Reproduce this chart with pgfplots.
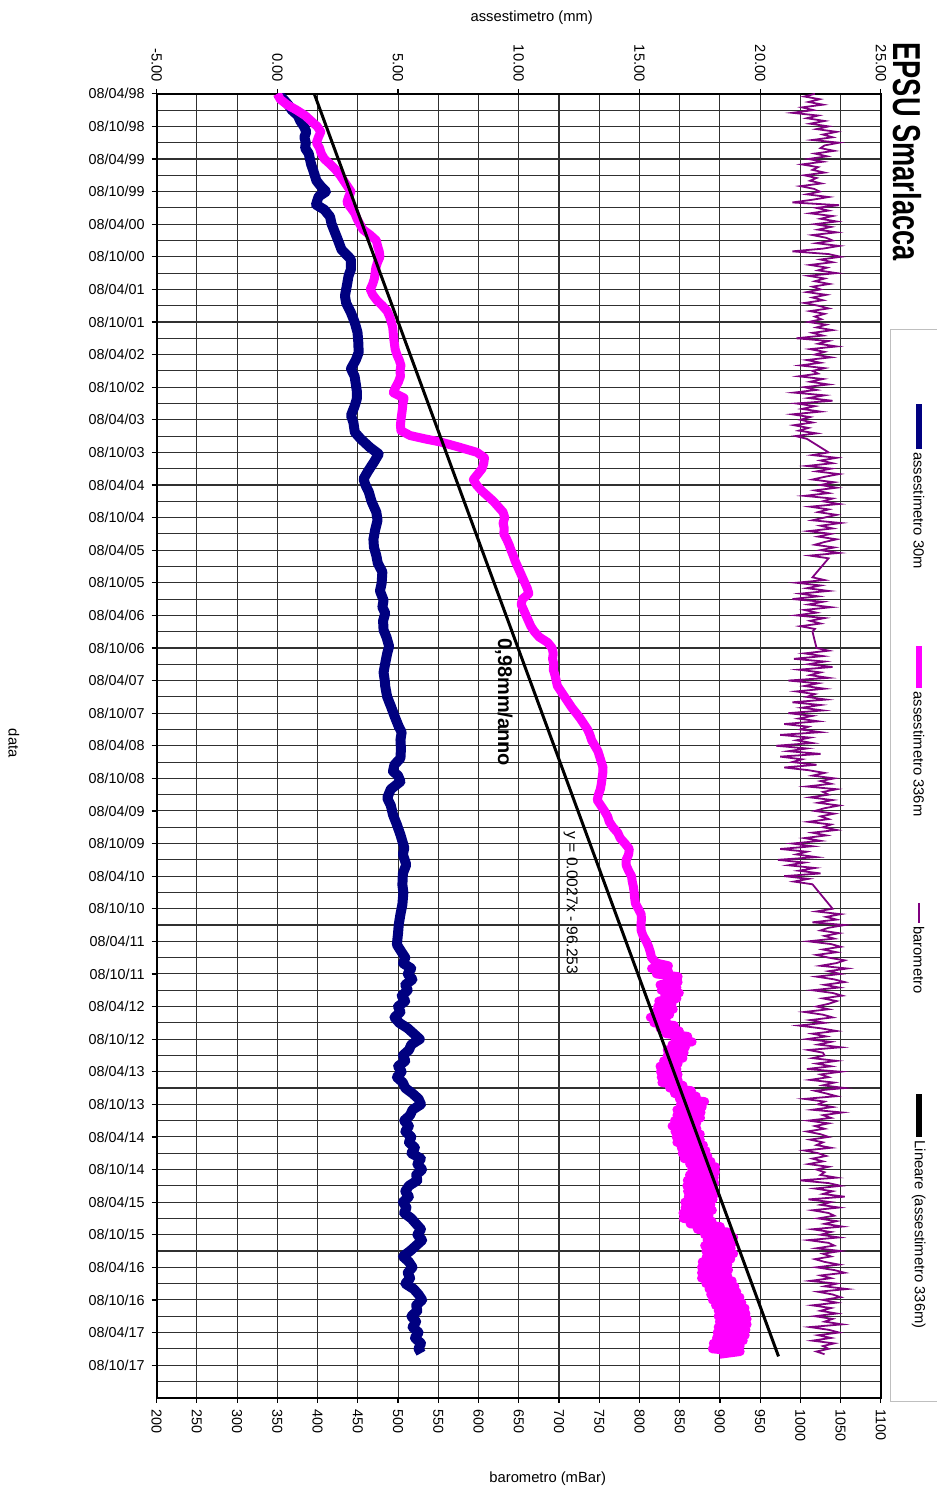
\documentclass[border=0pt]{standalone}
\usepackage{graphicx}
\usepackage{pgfplots}
\pgfplotsset{compat=1.18}
\usepackage{fontspec}
\setmainfont{Liberation Sans}
\definecolor{navy}{HTML}{000080}
\definecolor{mag}{HTML}{FF00FF}
\definecolor{purp}{HTML}{800080}
\definecolor{gridc}{HTML}{303030}
\newcommand{\fs}[1]{\fontsize{#1}{#1}\selectfont}
\begin{document}
\begin{tikzpicture}
\begin{scope}[x=0.5pt,y=-0.5pt]
\path[use as bounding box] (0,0) rectangle (939,1492);
\end{scope}
% main axis: assestimetro (mm)
\begin{axis}[
  at={(78.5pt,-700.5pt)}, anchor=south west,
  scale only axis, width=363pt, height=653.5pt,
  xmin=-5, xmax=25, ymin=0, ymax=240, y dir=reverse,
  xtick={-5,0,...,25},
  xticklabels={-5.00,0.00,5.00,10.00,15.00,20.00,25.00},
  minor xtick={-3.33333,-1.66667,1.66667,3.33333,6.66667,8.33333,11.66667,13.33333,16.66667,18.33333,21.66667,23.33333},
  xtick pos=right, xticklabel pos=right,
  xticklabel style={rotate=-90, anchor=east, font=\fs{7.4}},
  ytick={0,6,...,234},
  yticklabels={08/04/98,08/10/98,08/04/99,08/10/99,08/04/00,08/10/00,08/04/01,08/10/01,08/04/02,08/10/02,08/04/03,08/10/03,08/04/04,08/10/04,08/04/05,08/10/05,08/04/06,08/10/06,08/04/07,08/10/07,08/04/08,08/10/08,08/04/09,08/10/09,08/04/10,08/10/10,08/04/11,08/10/11,08/04/12,08/10/12,08/04/13,08/10/13,08/04/14,08/10/14,08/04/15,08/10/15,08/04/16,08/10/16,08/04/17,08/10/17},
  minor ytick={3,9,...,237},
  ytick pos=left,
  yticklabel style={font=\fs{7.2}},
  grid=both,
  major grid style={gridc, line width=0.55pt},
  minor grid style={gridc, line width=0.55pt},
  tick align=outside, major tick length=2.5pt, minor tick length=0pt,
  tick style={black, line width=0.6pt},
  axis line style={black, line width=1pt},
]
\addplot[navy, line width=5pt, line join=round] coordinates {
(0.00,0)(0.25,1)(0.45,2)(0.60,3)(0.85,4)(0.95,5)(1.10,6)(1.20,7)(1.12,8)(1.18,9)(1.15,10)(1.30,11)(1.35,12)(1.40,13)(1.48,14)(1.55,15)(1.62,16)(1.80,17)(2.02,18)(1.71,18.9)(1.63,20)(1.60,20.4)(1.94,21.3)(2.18,22.6)(2.25,24)(2.34,25)(2.50,26.8)(2.66,28.7)(2.95,30)(3.05,30.5)(3.05,32.3)(2.95,33.5)(2.90,34.8)(2.85,36)(2.80,37.2)(2.85,38.5)(3.05,40.3)(3.20,42)(3.32,43.9)(3.35,45.5)(3.37,47.6)(3.25,49)(3.05,50.6)(3.20,52)(3.26,53.7)(3.30,55)(3.29,56.2)(3.20,57.5)(3.05,59.2)(3.15,60.5)(3.21,62.3)(3.45,63.5)(3.84,65.1)(4.20,66.3)(4.00,67.8)(3.75,69.5)(3.57,70.9)(3.65,72)(3.79,73.3)(3.90,75)(4.10,77)(4.15,78.5)(4.05,80.3)(3.98,82)(4.00,83.4)(4.10,85)(4.16,86.4)(4.35,88)(4.32,90.1)(4.25,91.5)(4.40,93.2)(4.35,94.5)(4.47,95.6)(4.38,97)(4.40,98.7)(4.52,100)(4.63,101.7)(4.55,103)(4.47,104.8)(4.40,106.5)(4.45,108)(4.47,109.1)(4.55,111)(4.71,112.8)(4.85,114.5)(5.03,116.5)(5.15,117.5)(5.10,118.9)(5.12,120.5)(5.10,122.3)(4.85,123.5)(4.79,124.7)(5.00,125.5)(5.10,126.6)(4.70,128)(4.55,129.6)(4.70,131)(4.79,132.7)(4.95,134.5)(5.10,136.4)(5.26,138.8)(5.20,140)(5.34,141.9)(5.20,143.5)(5.18,145.6)(5.22,147)(5.18,149.2)(5.10,151)(5.03,152.9)(5.00,154.5)(4.95,156.6)(5.15,158)
(5.30,159)(5.20,160)(5.55,161)(5.40,162)(5.60,163)(5.30,164)(5.40,165)(5.15,166)(5.30,167)(5.00,168)(5.10,169)(4.85,170)(5.05,171)(5.40,172)(5.65,173)(5.90,174)(5.55,175)(5.45,176)(5.20,177)(5.30,178)(5.00,179)(5.15,180)(4.95,181)(5.20,182)(5.30,183)(5.60,184)(5.85,185)(5.95,186)(5.60,187)(5.50,188)(5.25,189)(5.45,190)(5.30,191)(5.55,192)(5.45,193)(5.70,194)(5.55,195)(5.95,196)(5.80,197)(6.00,198)(5.75,199)(5.80,200)(5.45,201)(5.30,202)(5.45,203)(5.20,204)(5.35,205)(5.25,206)(5.55,207)(5.75,208)(5.95,209)(5.80,210)(6.00,211)(5.75,212)(5.50,213)(5.20,214)(5.45,215)(5.60,216)(5.40,217)(5.50,218)(5.30,219)(5.65,220)(5.85,221)(6.00,222)(5.75,223)(5.80,224)(5.55,225)(5.75,226)(5.60,227)(5.85,228)(5.70,229)(5.95,230)(5.85,231)(5.95,231.8)
};
\addplot[mag, line width=4.5pt, line join=round] coordinates {
(0.00,0)(0.12,1)(0.40,2)(0.80,3)(1.15,4)(1.40,5)(1.65,6)(1.80,7)(1.70,8)(1.62,9)(1.75,10)(1.82,11)(1.95,12)(2.20,13)(2.42,14)(2.60,15)(2.75,16)(2.90,17)(3.05,18)(2.95,19)(2.88,20)(3.05,21)(3.21,22)(3.30,23)(3.42,24)(3.55,25)(3.85,26)(4.10,27)(4.15,28)(4.22,29)(4.25,30)(4.15,31)(4.08,32)(4.05,33)(4.02,34)(3.95,35)(3.85,36)(3.95,37)(4.12,38)(4.35,39)(4.55,40)(4.65,41)(4.72,42)(4.78,43)(4.80,44)(4.82,45)(4.85,46)(4.88,47)(4.95,48)(5.05,49)(5.12,50)(5.08,51)(5.10,52)(5.02,53)(4.90,54)(4.80,55)(5.25,56)(5.20,57)(5.18,58)(5.15,59)(5.12,60)(5.10,61)(5.12,62)(5.50,62.9)(6.10,63.5)(6.77,64.1)(7.50,65)(8.27,66)(8.58,67)(8.55,68)(8.48,69)(8.30,70)(8.12,71)(8.25,72)(8.45,73)(8.70,74)(8.95,75)(9.15,76)(9.35,77)(9.42,78)(9.35,79)(9.40,80)(9.38,81)(9.50,82)(9.60,83)(9.68,84)(9.77,85)(9.85,86)(9.95,87)(10.05,88)(10.15,89)(10.25,90)(10.35,91)(10.42,92)(10.15,93)(10.10,94)(10.20,95)(10.30,96)(10.40,97)(10.50,98)(10.65,99)(10.85,100)(11.20,101)(11.38,102)(11.43,103)(11.40,104)(11.45,105)(11.43,106)(11.50,107)(11.55,108)(11.60,109)(11.75,110)(11.90,111)(12.05,112)(12.20,113)(12.38,114)(12.55,115)(12.70,116)(12.85,117)(12.95,118)(13.02,119)(13.15,120)(13.28,121)(13.35,122)(13.42,123)(13.49,124)(13.48,125)(13.45,126)(13.42,127)(13.38,128)(13.30,129)(13.25,130)(13.40,131)(13.55,132)(13.68,133)(13.75,134)(13.90,135)(14.10,136)(14.20,137)(14.40,138)(14.58,139)(14.55,140)(14.45,141)(14.45,142)(14.55,143)(14.67,144)(14.70,145)(14.75,146)(14.78,147)(14.80,148)(14.83,149)(14.95,150)(15.07,151)(15.08,152)(15.06,153)(15.07,154)(15.15,155)(15.28,156)(15.38,157)(15.45,158)(15.50,159)(15.70,160)
(16.20,160.5)(15.50,161)(16.20,161.5)(15.70,162)(16.60,162.5)(16.15,163)(16.60,163.5)(15.85,164)(16.55,164.5)(15.90,165)(16.65,165.5)(16.05,166)(16.55,166.5)(15.80,167)(16.35,167.5)(15.75,168)(16.40,168.5)(15.65,169)(16.25,169.5)(15.45,170)(16.10,170.5)(15.60,171)(16.45,171.5)(15.85,172)(16.65,172.5)(16.10,173)(17.00,173.5)(16.48,174)(17.18,174.5)(16.35,175)(16.90,175.5)(16.15,176)(16.85,176.5)(16.15,177)(16.80,177.5)(16.00,178)(16.60,178.5)(15.85,179)(16.55,179.5)(15.87,180)(16.60,180.5)(15.90,181)(16.60,181.5)(15.93,182)(16.80,182.5)(16.25,183)(17.15,183.5)(16.45,184)(17.35,184.5)(16.65,185)(17.70,185.5)(16.70,186)(17.60,186.5)(16.55,187)(17.55,187.5)(16.55,188)(17.53,188.5)(16.45,189)(17.37,189.5)(16.35,190)(17.38,190.5)(16.47,191)(17.52,191.5)(16.52,192)(17.52,192.5)(16.55,193)(17.65,193.5)(16.73,194)(17.75,194.5)(16.77,195)(17.83,195.5)(16.85,196)(17.96,196.5)(17.08,197)(18.15,197.5)(17.16,198)(18.15,198.5)(17.07,199)(18.10,199.5)(16.98,200)(18.12,200.5)(16.96,201)(18.05,201.5)(16.99,202)(18.13,202.5)(17.02,203)(18.05,203.5)(16.88,204)(17.96,204.5)(16.89,205)(18.02,205.5)(16.80,206)(17.88,206.5)(16.82,207)(18.00,207.5)(17.10,208)(18.35,208.5)(17.40,209)(18.65,209.5)(17.70,210)(18.90,210.5)(17.80,211)(18.85,211.5)(17.70,212)(18.80,212.5)(17.75,213)(18.90,213.5)(17.77,214)(18.78,214.5)(17.60,215)(18.66,215.5)(17.57,216)(18.69,216.5)(17.57,217)(18.65,217.5)(17.57,218)(18.84,218.5)(17.75,219)(18.95,219.5)(17.88,220)(19.03,220.5)(17.95,221)(19.16,221.5)(18.02,222)(19.24,222.5)(18.15,223)(19.37,223.5)(18.26,224)(19.41,224.5)(18.26,225)(19.46,225.5)(18.31,226)(19.46,226.5)(18.26,227)(19.41,227.5)(18.22,228)(19.38,228.5)(18.19,229)(19.30,229.5)(18.06,230)(19.17,230.5)(18.02,231)(19.17,231.5)(18.32,232)
};
\addplot[black, line width=1.5pt] coordinates {(1.53,0) (20.76,232.4)};
\end{axis}
% secondary axis: barometro (mBar)
\begin{axis}[
  at={(78.5pt,-700.5pt)}, anchor=south west,
  scale only axis, width=363pt, height=653.5pt,
  xmin=200, xmax=1100, ymin=0, ymax=240, y dir=reverse,
  axis x line*=bottom, axis y line=none,
  xtick={200,250,...,1100},
  xticklabels={200,250,300,350,400,450,500,550,600,650,700,750,800,850,900,950,1000,1050,1100},
  xticklabel style={rotate=-90, anchor=west, font=\fs{7.2}},
  tick align=outside, major tick length=2.5pt,
  tick style={black, line width=0.6pt},
  axis line style={black, line width=1pt},
]
\addplot[purp, line width=0.9pt] coordinates {
(1018,0)(1005,0.5)(1024,1)(1010,1.5)(1028,2)(1002,2.5)(1016,3)(990,3.5)(1022,4)(1008,4.5)(1030,5)(1012,5.5)
(1035,6)(1020,6.5)(1045,7)(1028,7.5)(1040,8)(1015,8.5)(1048,9)(1030,9.5)(1025,10)(1042,10.5)(1018,11)(1033,11.5)
(1010,12)(1028,12.5)(1002,13)(1022,13.5)(1015,14)(1030,14.5)(1005,15)(1020,15.5)(1012,16)(1026,16.5)(1000,17)(1017,17.5)
(1024,18)(1008,18.5)(1035,19)(1015,19.5)(990,20)(1048,20.5)(1020,21)(1035,21.5)(1012,22)(1040,22.5)(1025,23)(1045,23.5)
(1018,24)(1038,24.5)(1022,25)(1045,25.5)(1015,26)(1032,26.5)(1040,27)(1020,27.5)(1048,28)(1028,28.5)(990,29)(1035,29.5)
(1050,30)(1025,30.5)(1040,31)(1012,31.5)(1033,32)(1022,32.5)(1045,33)(1010,33.5)(1030,34)(1018,34.5)(1036,35)(1015,35.5)
(1025,36)(1008,36.5)(1032,37)(1015,37.5)(1028,38)(1005,38.5)(1022,39)(1035,39.5)(1012,40)(1030,40.5)(1018,41)(1026,41.5)
(1010,42)(1032,42.5)(1020,43)(1040,43.5)(1015,44)(1028,44.5)(995,45)(1035,45.5)(1022,46)(1045,46.5)(1012,47)(1030,47.5)
(1018,48)(1038,48.5)(1008,49)(1025,49.5)(1000,50)(1030,50.5)(1015,51)(1022,51.5)(998,52)(1028,52.5)(1012,53)(1035,53.5)
(1005,54)(1020,54.5)(992,55)(1030,55.5)(1010,56)(1040,56.5)(995,57)(1018,57.5)(1002,58)(1025,58.5)(990,59)(1012,59.5)
(1000,60)(1015,60.5)(992,61)(1010,61.5)(998,62)(1020,62.5)(994,63)(1008,63.5)
(1035,66)(1015,66.5)(1045,67)(1025,67.5)(1040,68)(1008,68.5)(1038,69)(1020,69.5)(1048,70)(1030,70.5)(1015,71)(1042,71.5)
(1025,72)(1045,72.5)(1018,73)(1035,73.5)(1005,74)(1040,74.5)(1028,75)(1048,75.5)(1012,76)(1035,76.5)(1022,77)(1045,77.5)
(1030,78)(1015,78.5)(1050,79)(1025,79.5)(1040,80)(1010,80.5)(1038,81)(1022,81.5)(1045,82)(1030,82.5)(1018,83)(1042,83.5)(1025,84)(1048,84.5)(1012,85)(1035,85.5)
(1015,89)(1030,89.5)(995,90)(1025,90.5)(1008,91)(1035,91.5)(1000,92)(1022,92.5)(990,93)(1028,93.5)(1010,94)(1038,94.5)(1005,95)(1020,95.5)(995,96)(1030,96.5)(1012,97)(1025,97.5)(1000,98)(1018,98.5)(1015,99)
(1020,102)(1035,102.5)(1005,103)(1028,103.5)(992,104)(1030,104.5)(1010,105)(1040,105.5)(998,106)(1025,106.5)(1012,107)(1035,107.5)(985,108)(1022,108.5)(1005,109)(1030,109.5)(995,110)(1018,110.5)(1008,111)(1032,111.5)(990,112)(1025,112.5)(1002,113)(1028,113.5)(985,114)(1015,114.5)(998,115)(1022,115.5)(980,116)(1010,116.5)(1000,117)(1025,117.5)(975,118)(1012,118.5)
(995,119)(1015,119.5)(970,120)(1008,120.5)(985,121)(1025,121.5)(975,122)(1002,122.5)(990,123)(1020,123.5)(980,124)(1010,124.5)
(1030,125)(1015,125.5)(1042,126)(1025,126.5)(1038,127)(1008,127.5)(1045,128)(1028,128.5)(1035,129)(1012,129.5)(1040,130)(1022,130.5)(1048,131)(1030,131.5)(1018,132)(1042,132.5)(1025,133)(1035,133.5)(1010,134)(1038,134.5)(1028,135)(1045,135.5)(1015,136)(1032,136.5)
(1005,137)(1025,137.5)(990,138)(1015,138.5)(975,139)(1008,139.5)(995,140)(1020,140.5)(972,141)(1005,141.5)(985,142)(1018,142.5)(998,143)(1025,143.5)(980,144)(1010,144.5)(992,145)(1015,145.5)
(1040,150)(1020,150.5)(1050,151)(1032,151.5)(1045,152)(1015,152.5)(1055,153)(1035,153.5)(1025,154)(1048,154.5)(1030,155)(1042,155.5)(1010,156)(1038,156.5)(1050,157)(1028,157.5)(1045,158)(1020,158.5)(1035,159)(1055,159.5)
(1045,160)(1025,160.5)(1058,161)(1035,161.5)(1050,162)(1020,162.5)(1042,163)(1055,163.5)(1030,164)(1048,164.5)(1015,165)(1040,165.5)(1052,166)(1028,166.5)(1045,167)(1035,167.5)
(1020,168)(1035,168.5)(1005,169)(1028,169.5)(1040,170)(1012,170.5)(1030,171)(998,171.5)(1025,172)(1045,172.5)(1015,173)(1032,173.5)(1008,174)(1038,174.5)(1022,175)(1050,175.5)(1010,176)(1028,176.5)
(1030,177)(1015,177.5)(1045,178)(1020,178.5)(1038,179)(1008,179.5)(1050,180)(1025,180.5)(1035,181)(1012,181.5)(1042,182)(1028,182.5)(1055,183)(1018,183.5)(1032,184)(1045,184.5)(1005,185)(1030,185.5)(1022,186)(1040,186.5)(1015,187)(1052,187.5)(1028,188)(1038,188.5)(1010,189)(1035,189.5)
(1018,190)(1030,190.5)(1008,191)(1025,191.5)(1035,192)(1012,192.5)(1028,193)(1020,193.5)(1038,194)(1005,194.5)(1022,195)(1032,195.5)(1015,196)(1028,196.5)(1010,197)(1035,197.5)(1020,198)(1030,198.5)
(1025,199)(1045,199.5)(1000,200)(1035,200.5)(1050,201)(1018,201.5)(1040,202)(1028,202.5)(1055,203)(1010,203.5)(1038,204)(1025,204.5)(1048,205)(1015,205.5)(1035,206)(1042,206.5)
(1022,207)(1045,207.5)(1030,208)(1052,208.5)(1015,209)(1038,209.5)(1025,210)(1048,210.5)(1010,211)(1035,211.5)(1042,212)(1020,212.5)(1050,213)(1028,213.5)(1038,214)(1018,214.5)
(1030,215)(1048,215.5)(1020,216)(1042,216.5)(1055,217)(1025,217.5)(1038,218)(1012,218.5)(1045,219)(1030,219.5)(1058,220)(1022,220.5)(1040,221)(1050,221.5)(1028,222)(1045,222.5)(1015,223)(1038,223.5)
(1025,224)(1045,224.5)(1018,225)(1040,225.5)(1030,226)(1052,226.5)(1012,227)(1035,227.5)(1048,228)(1022,228.5)(1038,229)(1015,229.5)(1042,230)(1028,230.5)(1035,231)(1020,231.5)(1030,232)
};
\end{axis}
\begin{scope}[x=0.5pt,y=-0.5pt]
\node[rotate=-90, font=\fs{19.5}\bfseries] at (910,152) {\scalebox{0.7}[1]{EPSU Smarlacca}};
\node[font=\fs{7.4}] at (533,18) {assestimetro (mm)};
\node[font=\fs{7.4}] at (549,1482) {barometro (mBar)};
\node[rotate=-90, font=\fs{7.4}] at (14,745) {data};
\node[rotate=-90, font=\fs{10}\bfseries] at (505,704) {0,98mm/anno};
\node[rotate=-90, font=\fs{7.8}] at (572,905) {y = 0.0027x - 96.253};
% legend
\draw[black!25, line width=0.6pt] (939,330) -- (893,330) -- (893,1405) -- (939,1405);
\draw[navy, line width=3.2pt] (921,405) -- (921,450);
\node[rotate=-90, anchor=west, font=\fs{7.4}, inner sep=1pt] at (921,451) {assestimetro 30m};
\draw[mag, line width=3.2pt] (921,648) -- (921,690);
\node[rotate=-90, anchor=west, font=\fs{7.4}, inner sep=1pt] at (921,691) {assestimetro 336m};
\draw[purp, line width=1pt] (921,905) -- (921,925);
\node[rotate=-90, anchor=west, font=\fs{7.4}, inner sep=1pt] at (921,926) {barometro};
\draw[black, line width=3.2pt] (921,1097) -- (921,1140);
\node[rotate=-90, anchor=west, font=\fs{7.4}, inner sep=1pt] at (921,1141) {Lineare (assestimetro 336m)};
\end{scope}
\end{tikzpicture}
\end{document}
